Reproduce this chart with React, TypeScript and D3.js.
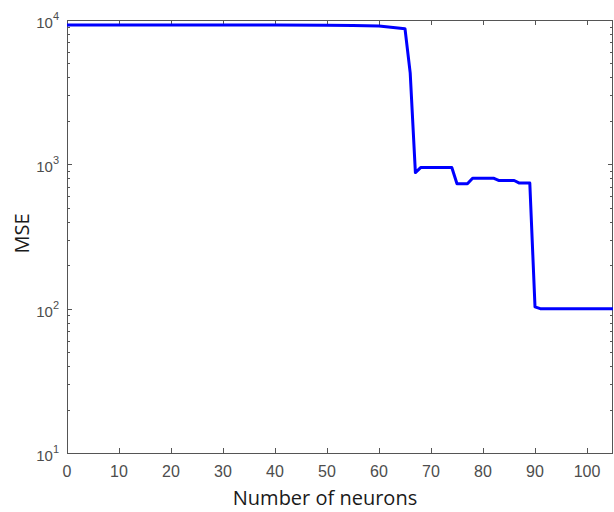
import { useRef, useEffect } from "react";
import * as d3 from "d3";

// Number of neurons vs MSE
const neurons = [0, 10, 20, 30, 40, 50, 55, 60, 65, 66, 67, 68, 74, 75, 77, 78, 82, 83, 86, 87, 89, 90, 91, 105];
const mse = [9230, 9230, 9230, 9230, 9230, 9200, 9150, 9090, 8700, 4300, 877, 950, 950, 733, 733, 802, 802, 773, 773, 741, 741, 103, 100, 100];

const xTicks = [0, 10, 20, 30, 40, 50, 60, 70, 80, 90, 100];
const yTicks = [10, 100, 1000, 10000];

const App = () => {
  const svgRef = useRef<SVGSVGElement>(null);

  useEffect(() => {
    const width = 614;
    const height = 512;
    const margin = { top: 20, right: 1, bottom: 59, left: 67 };
    const axisColor = "#555";
    const labelColor = "#4d4d4d";

    const svg = d3.select(svgRef.current).attr("width", width).attr("height", height);
    svg.selectAll("*").remove();

    const x = d3.scaleLinear().domain([0, 105]).range([margin.left, width - margin.right]);
    const y = d3.scaleLog().domain([10, 10000]).range([height - margin.bottom, margin.top]);

    const x0 = x.range()[0], x1 = x.range()[1];
    const y0 = y.range()[0], y1 = y.range()[1];

    // minor ticks for log axis (2..9 in every decade)
    const minor: number[] = [];
    for (let d = 10; d < 10000; d *= 10) {
      for (let k = 2; k <= 9; k++) minor.push(d * k);
    }

    const ticks = svg.append("g").attr("stroke", axisColor).attr("stroke-width", 1);

    // x ticks, bottom and top, pointing in
    ticks.append("g")
      .selectAll("line")
      .data(xTicks)
      .join("line")
      .attr("x1", d => Math.round(x(d)) + 0.5).attr("x2", d => Math.round(x(d)) + 0.5)
      .attr("y1", y0).attr("y2", y0 - 5);
    ticks.append("g")
      .selectAll("line")
      .data(xTicks)
      .join("line")
      .attr("x1", d => Math.round(x(d)) + 0.5).attr("x2", d => Math.round(x(d)) + 0.5)
      .attr("y1", y1).attr("y2", y1 + 5);

    // y major + minor ticks, left and right
    const yAll = [...yTicks.map(v => ({ v, len: 5 })), ...minor.map(v => ({ v, len: 3 }))];
    [x0, x1].forEach((xx, i) => {
      const dir = i === 0 ? 1 : -1;
      ticks.append("g")
        .selectAll("line")
        .data(yAll)
        .join("line")
        .attr("x1", xx)
        .attr("x2", d => xx + dir * d.len)
        .attr("y1", d => Math.round(y(d.v)) + 0.5)
        .attr("y2", d => Math.round(y(d.v)) + 0.5);
    });

    // box
    svg.append("rect")
      .attr("x", x0 + 0.5).attr("y", y1 + 0.5)
      .attr("width", x1 - x0 - 1).attr("height", y0 - y1)
      .attr("fill", "none")
      .attr("stroke", axisColor)
      .attr("stroke-width", 1);

    // x tick labels
    svg.append("g")
      .selectAll("text")
      .data(xTicks)
      .join("text")
      .attr("x", d => x(d))
      .attr("y", y0 + 24)
      .attr("text-anchor", "middle")
      .attr("fill", labelColor)
      .style("font-family", "'Liberation Sans', Arial, sans-serif")
      .style("font-size", "16px")
      .text(d => d);

    // y tick labels 10^n
    const yl = svg.append("g")
      .selectAll("text")
      .data(yTicks)
      .join("text")
      .attr("x", x0 - 8)
      .attr("y", d => y(d) + 8)
      .attr("text-anchor", "end")
      .attr("fill", labelColor)
      .style("font-family", "'Liberation Sans', Arial, sans-serif")
      .style("font-size", "15px");
    yl.append("tspan").text("10");
    yl.append("tspan")
      .attr("dy", -8)
      .style("font-size", "11px")
      .text(d => Math.round(Math.log10(d)));

    // curve
    const line = d3.line<number>()
      .x((d, i) => x(neurons[i]))
      .y(d => y(d));

    svg.append("path")
      .datum(mse)
      .attr("d", line)
      .attr("fill", "none")
      .attr("stroke", "#0000ff")
      .attr("stroke-width", 3)
      .attr("stroke-linejoin", "round");

    // axis titles
    svg.append("text")
      .attr("x", (x0 + x1) / 2 - 15)
      .attr("y", 505)
      .attr("text-anchor", "middle")
      .attr("fill", "#1a1a1a")
      .style("font-family", "'Open Sans', sans-serif")
      .style("font-size", "20px")
      .text("Number of neurons");

    svg.append("text")
      .attr("transform", `translate(29, ${(y0 + y1) / 2 - 3}) rotate(-90)`)
      .attr("text-anchor", "middle")
      .attr("fill", "#1a1a1a")
      .style("font-family", "'Open Sans', sans-serif")
      .style("font-size", "20px")
      .text("MSE");
  }, []);

  return <svg ref={svgRef} style={{ position: "absolute", left: 0, top: 0, background: "#fff" }}></svg>;
};

export default App;
